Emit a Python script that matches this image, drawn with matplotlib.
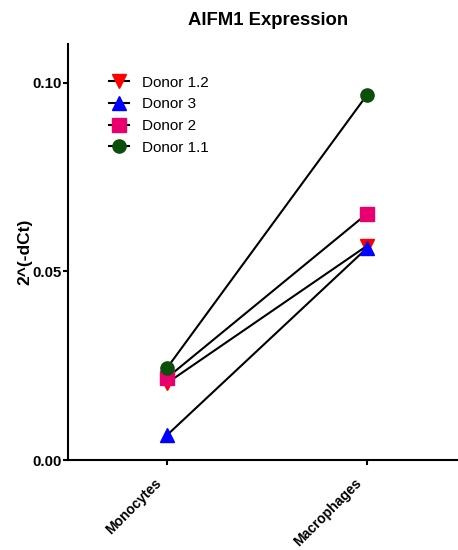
import matplotlib
matplotlib.use('Agg')
from matplotlib import pyplot as plt
from matplotlib.transforms import ScaledTranslation

plt.rcParams['font.family'] = ['Liberation Sans', 'DejaVu Sans']

groups = ['Monocytes', 'Macrophages']
donors = ['Donor 1.2', 'Donor 3', 'Donor 2', 'Donor 1.1']
values = {
    'Donor 1.2': [0.0204, 0.0568],
    'Donor 3': [0.0066, 0.0562],
    'Donor 2': [0.0218, 0.0653],
    'Donor 1.1': [0.0244, 0.0968],
}
markers = {'Donor 1.2': 'v', 'Donor 3': '^', 'Donor 2': 's', 'Donor 1.1': 'o'}
colors = {'Donor 1.2': '#ff0000', 'Donor 3': '#0000ff',
          'Donor 2': '#e8006e', 'Donor 1.1': '#0b4f0b'}
yticks = [0.00, 0.05, 0.10]

fig = plt.figure(figsize=(4.58, 5.5), dpi=100)
ax = fig.add_axes([0.1485, 0.1636, 0.8515, 0.7564])

x = list(range(len(groups)))
for d in donors:
    ax.plot(x, values[d], color='black', lw=1.5, marker=markers[d],
            markersize=9.5, markerfacecolor=colors[d], markeredgecolor=colors[d],
            label=d, zorder=3)

ax.set_xlim(-0.495, 1.455)
ax.set_ylim(0, 0.1103)
ax.set_xticks(x)
ax.set_xticklabels(groups, rotation=45, ha='right', va='center',
                   rotation_mode='anchor', fontweight='bold', fontsize=10)
ax.set_yticks(yticks)
ax.set_yticklabels(['%.2f' % t for t in yticks], fontweight='bold', fontsize=10.8)
ax.tick_params(direction='out', length=3.8, width=1.5)
ax.tick_params(axis='y', pad=1)
ax.tick_params(axis='x', pad=7)
# nudge the rotated category labels a little left/down
shift = ScaledTranslation(-5.5 / 72, -4 / 72, fig.dpi_scale_trans)
for lbl in ax.get_xticklabels():
    lbl.set_transform(lbl.get_transform() + shift)
ax.set_ylabel('2^(-dCt)', fontweight='bold', fontsize=12.5, labelpad=0)
ax.set_title('AIFM1 Expression', fontweight='bold', fontsize=13.3, pad=14, x=0.513)

for s in ['top', 'right']:
    ax.spines[s].set_visible(False)
for s in ['left', 'bottom']:
    ax.spines[s].set_linewidth(1.5)

ax.legend(loc='upper left', bbox_to_anchor=(0.069, 0.957), frameon=False,
          fontsize=11, handlelength=1.3, labelspacing=0.5, handletextpad=0.9)

fig.savefig('out.png', dpi=100)
